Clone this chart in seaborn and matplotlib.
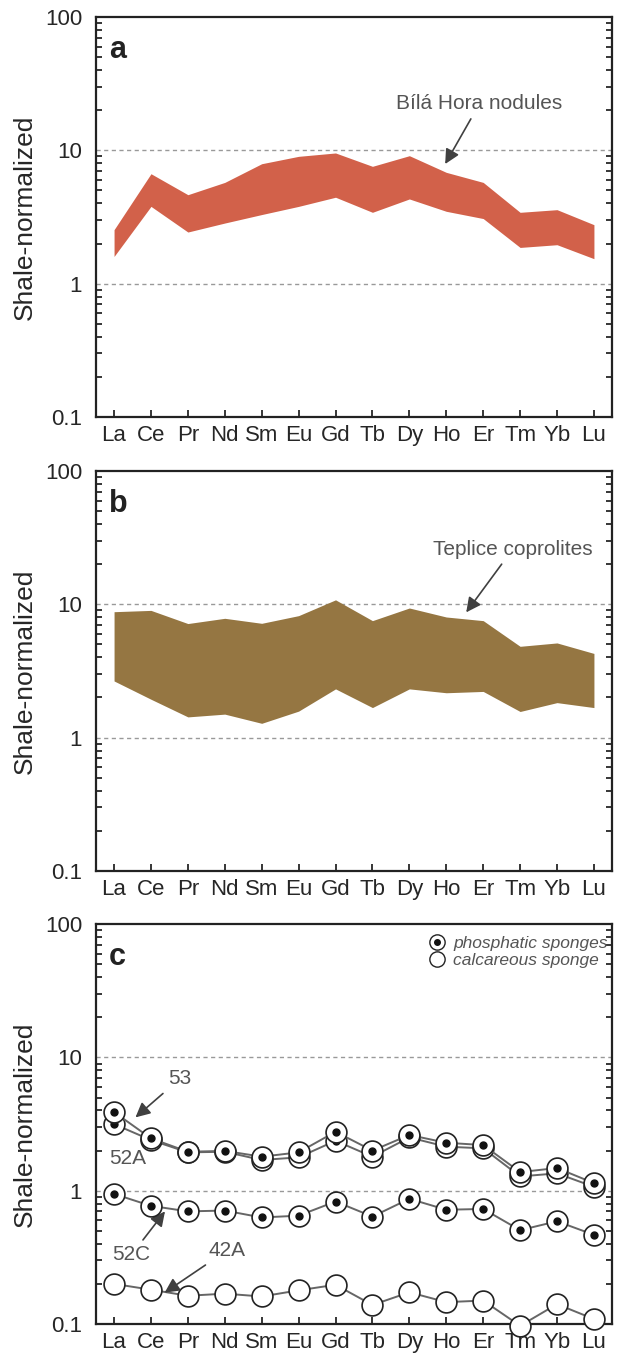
import numpy as np
import pandas as pd
import matplotlib
matplotlib.use('Agg')
import matplotlib.pyplot as plt
import seaborn as sns
from matplotlib.lines import Line2D

elements = ['La', 'Ce', 'Pr', 'Nd', 'Sm', 'Eu', 'Gd', 'Tb', 'Dy', 'Ho', 'Er', 'Tm', 'Yb', 'Lu']

# panel a - Bílá Hora nodules (range)
bh_upper = [2.54, 6.68, 4.65, 5.75, 7.94, 9.02, 9.56, 7.59, 9.12, 6.84, 5.75, 3.43, 3.59, 2.77]
bh_lower = [1.60, 3.80, 2.44, 2.85, 3.30, 3.80, 4.45, 3.43, 4.32, 3.49, 3.08, 1.87, 1.96, 1.54]

# panel b - Teplice coprolites (range)
tp_upper = [8.8, 9.0, 7.17, 7.85, 7.2, 8.22, 10.8, 7.54, 9.38, 8.03, 7.54, 4.84, 5.13, 4.28]
tp_lower = [2.66, 1.94, 1.43, 1.50, 1.28, 1.58, 2.32, 1.68, 2.32, 2.17, 2.22, 1.57, 1.83, 1.68]

# panel c - sponges
s53 = [3.89, 2.47, 1.96, 1.99, 1.80, 1.94, 2.77, 2.00, 2.62, 2.29, 2.20, 1.38, 1.48, 1.14]
s52A = [3.16, 2.40, 1.94, 1.96, 1.70, 1.78, 2.37, 1.80, 2.51, 2.14, 2.08, 1.28, 1.35, 1.07]
s52C = [0.946, 0.77, 0.70, 0.71, 0.63, 0.65, 0.83, 0.64, 0.87, 0.72, 0.73, 0.506, 0.59, 0.467]
s42A = [0.200, 0.181, 0.163, 0.169, 0.161, 0.179, 0.197, 0.139, 0.173, 0.146, 0.150, 0.097, 0.141, 0.109]

sns.set_style('white')
plt.rcParams['font.family'] = ['Liberation Sans', 'DejaVu Sans']

fig = plt.figure(figsize=(6.24, 13.53), dpi=100)
left, width, height = 0.1538, 0.827, 0.2956
bottoms = [0.6918, 0.3563, 0.0214]
axes = [fig.add_axes([left, b, width, height]) for b in bottoms]

x = np.arange(len(elements))
txt_col = '#555555'
arrow_kw = dict(arrowstyle='-|>', color='#404040', lw=1.2, mutation_scale=22,
                shrinkA=2, shrinkB=0)


def style_axis(ax, label):
    ax.set_yscale('log')
    ax.set_ylim(0.1, 100)
    ax.set_xlim(-0.49, 13.49)
    ax.set_xticks(x)
    ax.set_xticklabels(elements)
    ax.set_yticks([0.1, 1, 10, 100])
    ax.set_yticklabels(['0.1', '1', '10', '100'])
    ax.tick_params(axis='y', which='major', direction='in', length=0, labelsize=16, pad=10)
    ax.tick_params(axis='y', which='minor', direction='in', length=4, width=1.3,
                   left=True, right=True)
    ax.tick_params(axis='x', direction='in', length=5, width=1.3, labelsize=16, pad=6, bottom=True)
    for s in ax.spines.values():
        s.set_linewidth(1.6)
        s.set_color('#222222')
    for v in [1, 10]:
        ax.axhline(v, color='#999999', ls=(0, (3, 2.5)), lw=1, zorder=0)
    ax.set_ylabel('Shale-normalized', fontsize=19, labelpad=6)
    ax.text(0.025, 0.955, label, transform=ax.transAxes, fontsize=22,
            fontweight='bold', va='top', ha='left', color='#222222')


# panel a
ax = axes[0]
ax.fill_between(x, bh_lower, bh_upper, color='#D2614A', lw=0)
style_axis(ax, 'a')
ax.annotate('Bílá Hora nodules', xy=(8.97, 7.9), xytext=(9.9, 19.0),
            ha='center', va='bottom', fontsize=15, color=txt_col, arrowprops=arrow_kw)

# panel b
ax = axes[1]
ax.fill_between(x, tp_lower, tp_upper, color='#957642', lw=0)
style_axis(ax, 'b')
ax.annotate('Teplice coprolites', xy=(9.54, 8.7), xytext=(10.8, 22.0),
            ha='center', va='bottom', fontsize=15, color=txt_col, arrowprops=arrow_kw)

# panel c
ax = axes[2]
df = pd.DataFrame({'element': elements * 4,
                   'value': s52A + s53 + s52C + s42A,
                   'sample': ['52A'] * 14 + ['53'] * 14 + ['52C'] * 14 + ['42A'] * 14})
df['pos'] = list(x) * 4
for i, name in enumerate(['42A', '52C', '52A', '53']):
    sub = df[df['sample'] == name]
    sns.lineplot(data=sub, x='pos', y='value', ax=ax, color='#666666', lw=1.4,
                 marker='o', markersize=15, markerfacecolor='white',
                 markeredgecolor='#222222', markeredgewidth=1.2, zorder=3 + 2 * i)
    if name != '42A':
        ax.plot(sub['pos'], sub['value'], ls='none', marker='o', markersize=5,
                color='#111111', zorder=4 + 2 * i)
for ln in ax.lines:
    ln.set_clip_on(False)
style_axis(ax, 'c')
ax.set_xlabel('')

ax.annotate('53', xy=(0.58, 3.55), xytext=(1.78, 6.9), ha='center', va='center',
            fontsize=15, color=txt_col, arrowprops=arrow_kw)
ax.text(0.38, 1.74, '52A', ha='center', va='center', fontsize=15, color=txt_col)
ax.annotate('52C', xy=(1.38, 0.70), xytext=(0.47, 0.33), ha='center', va='center',
            fontsize=15, color=txt_col, arrowprops=arrow_kw)
ax.annotate('42A', xy=(1.37, 0.172), xytext=(3.05, 0.355), ha='center', va='center',
            fontsize=15, color=txt_col, arrowprops=arrow_kw)

ring = dict(ls='none', marker='o', markersize=11, markerfacecolor='white',
            markeredgecolor='#222222', markeredgewidth=1.0)
dot = Line2D([], [], ls='none', marker='o', markersize=4, color='#111111')
leg = ax.legend([(Line2D([], [], **ring), dot), Line2D([], [], **ring)],
                ['phosphatic sponges', 'calcareous sponge'],
                loc='upper right', bbox_to_anchor=(1.015, 1.0), frameon=False,
                prop={'style': 'italic', 'size': 12.5}, handletextpad=0.3,
                labelspacing=0.1, handlelength=1.2, borderaxespad=0.3)
for t in leg.get_texts():
    t.set_color(txt_col)

fig.savefig('out.png', dpi=100)
